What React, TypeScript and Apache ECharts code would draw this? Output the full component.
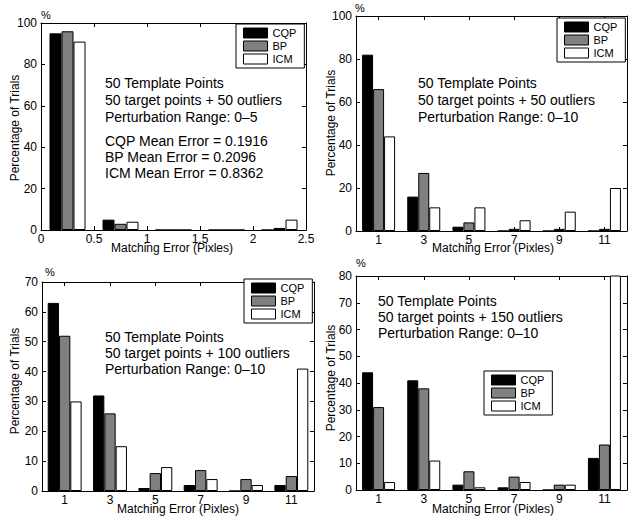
import React, { useEffect, useRef } from "react";
import * as echarts from "echarts";

const seriesNames = ["CQP", "BP", "ICM"];
const seriesColors = ["#000000", "#808080", "#ffffff"];

// Panel 1 (top-left): perturbation 0-5
const p1Bins = [0.25, 0.75, 1.25, 1.75, 2.25];
const p1CQP = [95, 5, 0, 0, 0];
const p1BP = [96, 3, 0, 0, 1];
const p1ICM = [91, 4, 0, 0, 5];
const p1XTicks = [0, 0.5, 1, 1.5, 2, 2.5];

// Panels 2-4 share odd bins
const oddBins = [1, 3, 5, 7, 9, 11];

// Panel 2 (top-right): 50 outliers
const p2CQP = [82, 16, 2, 0, 0, 0];
const p2BP = [66, 27, 4, 1, 1, 1];
const p2ICM = [44, 11, 11, 5, 9, 20];

// Panel 3 (bottom-left): 100 outliers
const p3CQP = [63, 32, 1, 2, 0, 2];
const p3BP = [52, 26, 6, 7, 4, 5];
const p3ICM = [30, 15, 8, 4, 2, 41];

// Panel 4 (bottom-right): 150 outliers
const p4CQP = [44, 41, 2, 1, 0, 12];
const p4BP = [31, 38, 7, 5, 2, 17];
const p4ICM = [3, 11, 1, 3, 2, 84];

const p1Notes = [
  "50 Template Points",
  "50 target points + 50 outliers",
  "Perturbation Range: 0–5",
  "CQP Mean Error = 0.1916",
  "BP Mean Error = 0.2096",
  "ICM Mean Error = 0.8362",
];
const p2Notes = ["50 Template Points", "50 target points + 50 outliers", "Perturbation Range: 0–10"];
const p3Notes = ["50 Template Points", "50 target points + 100 outliers", "Perturbation Range: 0–10"];
const p4Notes = ["50 Template Points", "50 target points + 150 outliers", "Perturbation Range: 0–10"];

const xTitle = "Matching Error (Pixles)";
const yTitle = "Percentage of Trials";
const yUnit = "%";

const FONT = "'Liberation Sans', Arial, Helvetica, sans-serif";

type Panel = {
  grid: { left: number; top: number; width: number; height: number };
  xMax: number;
  xInterval?: number;
  xTicks: number[];
  yMax: number;
  yStep: number;
  bins: number[];
  vals: number[][];
  barW: number;
  legend: { left: number; top: number };
  notes: string[];
  notesX: number;
  notesY: number[];
  yTitlePos: [number, number];
  xTitlePos: [number, number];
  unitPos: [number, number];
};

const panels: Panel[] = [
  {
    grid: { left: 41, top: 23, width: 265, height: 207 },
    xMax: 2.5,
    xInterval: 0.5,
    xTicks: p1XTicks,
    yMax: 100,
    yStep: 20,
    bins: p1Bins,
    vals: [p1CQP, p1BP, p1ICM],
    barW: 12,
    legend: { left: 236, top: 24 },
    notes: p1Notes,
    notesX: 105,
    notesY: [83, 100, 117, 141, 157, 173],
    yTitlePos: [15, 128],
    xTitlePos: [172, 248],
    unitPos: [46, 15],
  },
  {
    grid: { left: 356, top: 16, width: 271, height: 215 },
    xMax: 12,
    xTicks: oddBins,
    yMax: 100,
    yStep: 20,
    bins: oddBins,
    vals: [p2CQP, p2BP, p2ICM],
    barW: 11,
    legend: { left: 557, top: 18 },
    notes: p2Notes,
    notesX: 418,
    notesY: [83, 100, 117],
    yTitlePos: [331, 123],
    xTitlePos: [493, 248],
    unitPos: [360, 8],
  },
  {
    grid: { left: 42, top: 282, width: 272, height: 209 },
    xMax: 12,
    xTicks: oddBins,
    yMax: 70,
    yStep: 10,
    bins: oddBins,
    vals: [p3CQP, p3BP, p3ICM],
    barW: 11.3,
    legend: { left: 244, top: 279 },
    notes: p3Notes,
    notesX: 105,
    notesY: [337, 353, 369],
    yTitlePos: [15, 381],
    xTitlePos: [178, 509],
    unitPos: [50, 272],
  },
  {
    grid: { left: 356, top: 276, width: 271, height: 214 },
    xMax: 12,
    xTicks: oddBins,
    yMax: 80,
    yStep: 10,
    bins: oddBins,
    vals: [p4CQP, p4BP, p4ICM],
    barW: 11,
    legend: { left: 484, top: 371 },
    notes: p4Notes,
    notesX: 378,
    notesY: [301, 317, 333],
    yTitlePos: [331, 378],
    xTitlePos: [493, 509],
    unitPos: [361, 263],
  },
];

function buildOption() {
  const grid: any[] = [];
  const xAxis: any[] = [];
  const yAxis: any[] = [];
  const series: any[] = [];
  const legend: any[] = [];
  const graphic: any[] = [];

  const lineStyle = { color: "#000", width: 1 };

  panels.forEach((p, i) => {
    grid.push({ ...p.grid, containLabel: false });
    const tickCommon = { inside: true, length: 4, lineStyle };
    const custom = p.xInterval === undefined;
    ["bottom", "top"].forEach((pos) => {
      xAxis.push({
        type: "value",
        gridIndex: i,
        position: pos,
        min: 0,
        max: p.xMax,
        interval: p.xInterval,
        axisLine: { show: true, onZero: false, lineStyle },
        axisTick: custom ? { ...tickCommon, customValues: p.xTicks } : tickCommon,
        axisLabel:
          pos === "bottom"
            ? {
                show: true,
                color: "#000",
                fontSize: 12,
                fontFamily: FONT,
                margin: 3,
                ...(custom ? { customValues: p.xTicks } : {}),
              }
            : { show: false },
        splitLine: { show: false },
      });
    });
    ["left", "right"].forEach((pos) => {
      yAxis.push({
        type: "value",
        gridIndex: i,
        position: pos,
        min: 0,
        max: p.yMax,
        interval: p.yStep,
        axisLine: { show: true, onZero: false, lineStyle },
        axisTick: tickCommon,
        axisLabel:
          pos === "left"
            ? { show: true, color: "#000", fontSize: 12, fontFamily: FONT, margin: 4 }
            : { show: false },
        splitLine: { show: false },
      });
    });

    seriesNames.forEach((name, s) => {
      series.push({
        type: "bar",
        name,
        xAxisIndex: i * 2,
        yAxisIndex: i * 2,
        data: p.bins.map((b, k) => [b, p.vals[s][k]]),
        barWidth: p.barW,
        barGap: "0%",
        clip: true,
        itemStyle: { color: seriesColors[s], borderColor: "#000", borderWidth: 1 },
      });
    });

    legend.push({
      data: seriesNames,
      orient: "vertical",
      left: p.legend.left,
      top: p.legend.top,
      icon: "rect",
      itemWidth: 24,
      itemHeight: 10,
      itemGap: 1,
      padding: [3, 8, 3, 7],
      borderColor: "#000",
      borderWidth: 1,
      backgroundColor: "#fff",
      selectedMode: false,
      z: 10,
      textStyle: { fontSize: 11, lineHeight: 12, color: "#000", fontFamily: FONT },
      itemStyle: { borderColor: "#000", borderWidth: 1 },
    });

    p.notes.forEach((t, k) => {
      graphic.push({
        type: "text",
        x: p.notesX,
        y: p.notesY[k],
        style: { text: t, fill: "#000", font: `14px ${FONT}`, textVerticalAlign: "middle", verticalAlign: "middle" },
      });
    });
    graphic.push({
      type: "text",
      x: p.yTitlePos[0],
      y: p.yTitlePos[1],
      rotation: Math.PI / 2,
      style: { text: yTitle, fill: "#000", font: `12px ${FONT}`, align: "center", verticalAlign: "middle" },
    });
    graphic.push({
      type: "text",
      x: p.xTitlePos[0],
      y: p.xTitlePos[1],
      style: { text: xTitle, fill: "#000", font: `12px ${FONT}`, align: "center", verticalAlign: "middle" },
    });
    graphic.push({
      type: "text",
      x: p.unitPos[0],
      y: p.unitPos[1],
      style: { text: yUnit, fill: "#000", font: `11px ${FONT}`, align: "center", verticalAlign: "middle" },
    });
  });

  return {
    animation: false,
    backgroundColor: "#fff",
    textStyle: { fontFamily: FONT },
    grid,
    xAxis,
    yAxis,
    series,
    legend,
    graphic,
  };
}

export default function App() {
  const ref = useRef<HTMLDivElement>(null);
  useEffect(() => {
    if (!ref.current) return;
    const chart = echarts.init(ref.current, undefined, { renderer: "svg" });
    chart.setOption(buildOption() as any);
    return () => chart.dispose();
  }, []);
  return (
    <div
      ref={ref}
      style={{ position: "fixed", left: 0, top: 0, width: 632, height: 516, background: "#fff" }}
    />
  );
}
